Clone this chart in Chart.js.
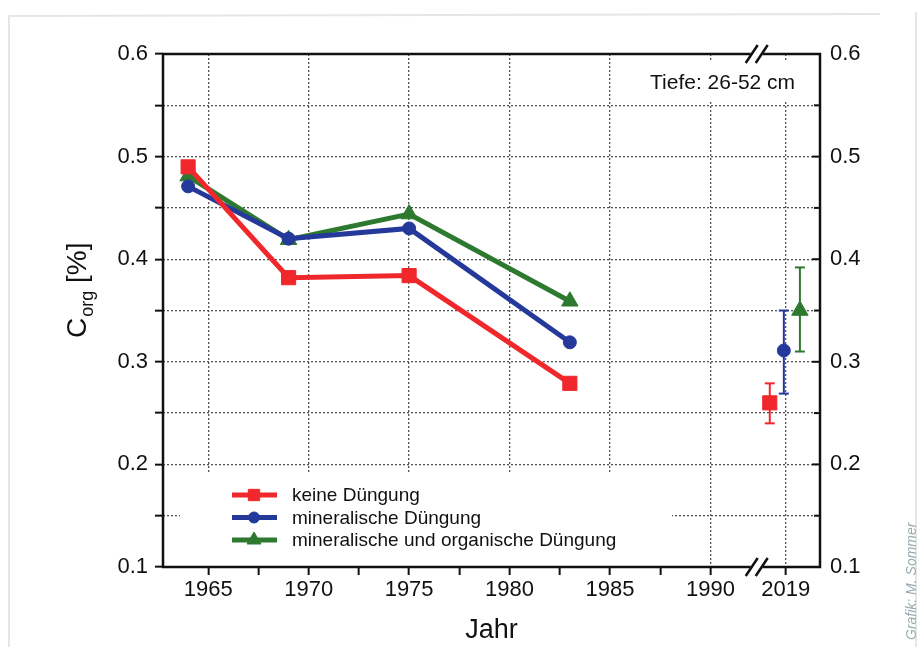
<!DOCTYPE html>
<html lang="de">
<head>
<meta charset="utf-8">
<title>Corg Tiefe 26-52 cm</title>
<script src="https://cdn.jsdelivr.net/npm/chart.js@4.4.1/dist/chart.umd.min.js"></script>
<style>
  html, body { margin: 0; padding: 0; background: #fff; }
  #wrap { width: 919px; height: 647px; position: relative; }
</style>
</head>
<body>
<div id="wrap"><canvas id="grafikCorg"></canvas></div>
<script>
"use strict";

// Messjahre und Corg-Werte (Tiefe 26-52 cm)
const jahre = [1964, 1969, 1975, 1983];
const keineDuengung = [0.49, 0.382, 0.384, 0.279];
const mineralisch = [0.471, 0.42, 0.43, 0.319];
const mineralischOrganisch = [0.481, 0.419, 0.444, 0.359];

// 2019 (hinter dem Achsenbruch): Mittelwert und Fehlerbalken
const werte2019 = [0.26, 0.311, 0.35];
const fehlerUnten2019 = [0.24, 0.269, 0.31];
const fehlerOben2019 = [0.279, 0.35, 0.392];
const versatz2019 = [-0.8, -0.1, 0.7]; // leicht versetzt wie im Original

const serienNamen = ['keine Düngung', 'mineralische Düngung', 'mineralische und organische Düngung'];
const farben = ['#f0282b', '#25399b', '#2d792f'];
const symbole = ['rect', 'circle', 'triangle'];
const symbolGroesse = [10, 6.5, 9.5];

// x-Achse mit Bruch: 2019 sitzt direkt hinter 1990
const xTicks = [1965, 1967.5, 1970, 1972.5, 1975, 1977.5, 1980, 1982.5, 1985, 1987.5, 1990];
const xBruch = 1992.3;
const x2019 = 1993.75;

const schrift = "'Liberation Sans', Arial, sans-serif";
const textFarbe = '#111';

const reihen = [keineDuengung, mineralisch, mineralischOrganisch];
const datasets = [];

reihen.forEach(function (werte, i) {
  datasets.push({
    label: serienNamen[i],
    data: jahre.map((j, k) => ({ x: j, y: werte[k] })),
    borderColor: farben[i],
    backgroundColor: farben[i],
    borderWidth: 5,
    tension: 0,
    pointStyle: symbole[i],
    pointRadius: symbolGroesse[i],
    pointBorderWidth: 1,
    order: 1
  });
});

reihen.forEach(function (werte, i) {
  const xp = x2019 + versatz2019[i];
  // Fehlerbalken
  datasets.push({
    label: serienNamen[i] + ' 2019 Fehler',
    data: [{ x: xp, y: fehlerUnten2019[i] }, { x: xp, y: fehlerOben2019[i] }],
    showLine: true,
    borderColor: farben[i],
    backgroundColor: farben[i],
    borderWidth: 2,
    pointStyle: 'line',
    pointRadius: 5,
    pointBorderWidth: 2,
    order: 3
  });
  // Mittelwert 2019
  datasets.push({
    label: serienNamen[i] + ' 2019',
    data: [{ x: xp, y: werte2019[i] }],
    showLine: false,
    borderColor: farben[i],
    backgroundColor: farben[i],
    pointStyle: symbole[i],
    pointRadius: symbolGroesse[i],
    pointBorderWidth: 1,
    order: 1
  });
});

function istZehntel(v) {
  return Math.abs(v * 10 - Math.round(v * 10)) < 1e-6;
}

// Weisse Kaesten fuer Legende und Tiefe (ueberdecken das Gitter)
const kastenPlugin = {
  id: 'kasten',
  beforeDatasetsDraw(chart) {
    const { ctx, chartArea: a } = chart;
    ctx.save();
    ctx.fillStyle = '#fff';
    ctx.fillRect(180, 474, 492, a.bottom - 474);
    ctx.fillRect(640, a.top + 8, a.right - 640, 38);
    ctx.restore();
  }
};

// Rahmen, Achsenbruch, Beschriftungen, Legende
const rahmenPlugin = {
  id: 'rahmen',
  beforeDraw(chart) {
    const ctx = chart.ctx;
    ctx.save();
    ctx.strokeStyle = '#e6e6e6';
    ctx.lineWidth = 2;
    ctx.beginPath();
    ctx.moveTo(9, 647); ctx.lineTo(9, 16); ctx.lineTo(880, 14);
    ctx.moveTo(916, 12); ctx.lineTo(916, 647);
    ctx.stroke();
    ctx.restore();
  },
  afterDatasetsDraw(chart) {
    const { ctx, chartArea: a, scales } = chart;
    const xb = scales.x.getPixelForValue(xBruch);
    ctx.save();

    // Rahmen
    ctx.strokeStyle = '#111';
    ctx.lineWidth = 2.5;
    ctx.strokeRect(a.left, a.top, a.right - a.left, a.bottom - a.top);

    // Ticks rechts nach innen
    ctx.lineWidth = 2;
    scales.y2.ticks.forEach(function (t) {
      const y = scales.y2.getPixelForValue(t.value);
      const len = istZehntel(t.value) ? 8 : 6;
      ctx.beginPath();
      ctx.moveTo(a.right - len, y);
      ctx.lineTo(a.right, y);
      ctx.stroke();
    });

    // Achsenbruch oben und unten
    [a.top, a.bottom].forEach(function (y) {
      ctx.fillStyle = '#fff';
      ctx.fillRect(xb - 6, y - 3, 12, 6);
      ctx.strokeStyle = '#111';
      ctx.lineWidth = 2.5;
      ctx.beginPath();
      [-5, 5].forEach(function (d) {
        ctx.moveTo(xb + d - 6, y + 9);
        ctx.lineTo(xb + d + 6, y - 9);
      });
      ctx.stroke();
    });

    // Tiefe
    ctx.fillStyle = textFarbe;
    ctx.font = '21px ' + schrift;
    ctx.textAlign = 'left';
    ctx.textBaseline = 'alphabetic';
    ctx.fillText('Tiefe: 26-52 cm', 650, 89);

    // Legende
    const zeilen = [495, 517.5, 540];
    const legendeGroesse = [8, 5.5, 8];
    for (let i = 0; i < 3; i++) {
      const y = zeilen[i];
      ctx.strokeStyle = farben[i];
      ctx.lineWidth = 5;
      ctx.beginPath();
      ctx.moveTo(232, y);
      ctx.lineTo(277, y);
      ctx.stroke();
      ctx.fillStyle = farben[i];
      ctx.lineWidth = 1;
      Chart.helpers.drawPoint(ctx, { pointStyle: symbole[i], radius: legendeGroesse[i], borderWidth: 1 }, 254, y);
      ctx.fillStyle = textFarbe;
      ctx.font = '19px ' + schrift;
      ctx.textBaseline = 'middle';
      ctx.fillText(chart.data.datasets[i].label, 292, y + 1);
    }
    ctx.restore();
  },
  afterDraw(chart) {
    const ctx = chart.ctx;
    ctx.save();
    // y-Achsentitel C_org [%]
    ctx.translate(86, 338);
    ctx.rotate(-Math.PI / 2);
    ctx.fillStyle = textFarbe;
    ctx.textAlign = 'left';
    ctx.textBaseline = 'alphabetic';
    ctx.font = '28px ' + schrift;
    ctx.fillText('C', 0, 0);
    let w = ctx.measureText('C').width;
    ctx.font = '18px ' + schrift;
    ctx.fillText('org', w + 1, 7);
    w += 1 + ctx.measureText('org').width;
    ctx.font = '28px ' + schrift;
    ctx.fillText(' [%]', w, 0);
    ctx.restore();

    // Quelle am rechten Rand
    ctx.save();
    ctx.translate(916, 640);
    ctx.rotate(-Math.PI / 2);
    ctx.fillStyle = '#9aacb2';
    ctx.font = 'italic 14px ' + schrift;
    ctx.textAlign = 'left';
    ctx.textBaseline = 'alphabetic';
    ctx.fillText('Grafik: M. Sommer', 0, 0);
    ctx.restore();
  }
};

const ctx = document.getElementById('grafikCorg').getContext('2d');
new Chart(ctx, {
  type: 'line',
  data: { datasets: datasets },
  options: {
    responsive: true,
    maintainAspectRatio: false,
    animation: false,
    layout: { padding: { top: 54, left: 0, right: 0, bottom: 0 } },
    plugins: {
      legend: { display: false },
      tooltip: { enabled: false }
    },
    scales: {
      x: {
        type: 'linear',
        min: 1962.75,
        max: 1995.45,
        afterBuildTicks: function (scale) {
          scale.ticks = xTicks.concat([x2019]).map(v => ({ value: v }));
        },
        afterFit: function (scale) { scale.height = 80; },
        border: { display: false, dash: [2, 2] },
        grid: {
          color: c => (c.tick && (c.tick.value % 5 === 0 || c.tick.value === x2019)) ? '#555' : 'rgba(0,0,0,0)',
          lineWidth: 1.3,
          tickColor: '#111',
          tickBorderDash: [],
          tickWidth: 2,
          tickLength: 8
        },
        ticks: {
          autoSkip: false,
          maxRotation: 0,
          padding: 2,
          color: textFarbe,
          font: { family: schrift, size: 22 },
          callback: function (v) {
            if (v === x2019) return '2019';
            return v % 5 === 0 ? String(v) : '';
          }
        },
        title: {
          display: true,
          text: 'Jahr',
          color: textFarbe,
          font: { family: schrift, size: 27 },
          padding: { top: 0, bottom: 0 }
        }
      },
      y: {
        position: 'left',
        min: 0.1,
        max: 0.6,
        afterFit: function (scale) { scale.width = 163; },
        border: { display: false, dash: [2, 2] },
        grid: {
          color: '#555',
          lineWidth: 1.3,
          tickColor: '#111',
          tickBorderDash: [],
          tickWidth: 2,
          tickLength: 8
        },
        ticks: {
          stepSize: 0.05,
          padding: 7,
          color: textFarbe,
          font: { family: schrift, size: 22 },
          callback: v => istZehntel(v) ? v.toFixed(1) : ''
        }
      },
      y2: {
        position: 'right',
        min: 0.1,
        max: 0.6,
        afterFit: function (scale) { scale.width = 99; },
        border: { display: false },
        grid: { drawOnChartArea: false, drawTicks: false },
        ticks: {
          stepSize: 0.05,
          padding: 10,
          color: textFarbe,
          font: { family: schrift, size: 22 },
          callback: v => istZehntel(v) ? v.toFixed(1) : ''
        }
      }
    }
  },
  plugins: [kastenPlugin, rahmenPlugin]
});
</script>
</body>
</html>
